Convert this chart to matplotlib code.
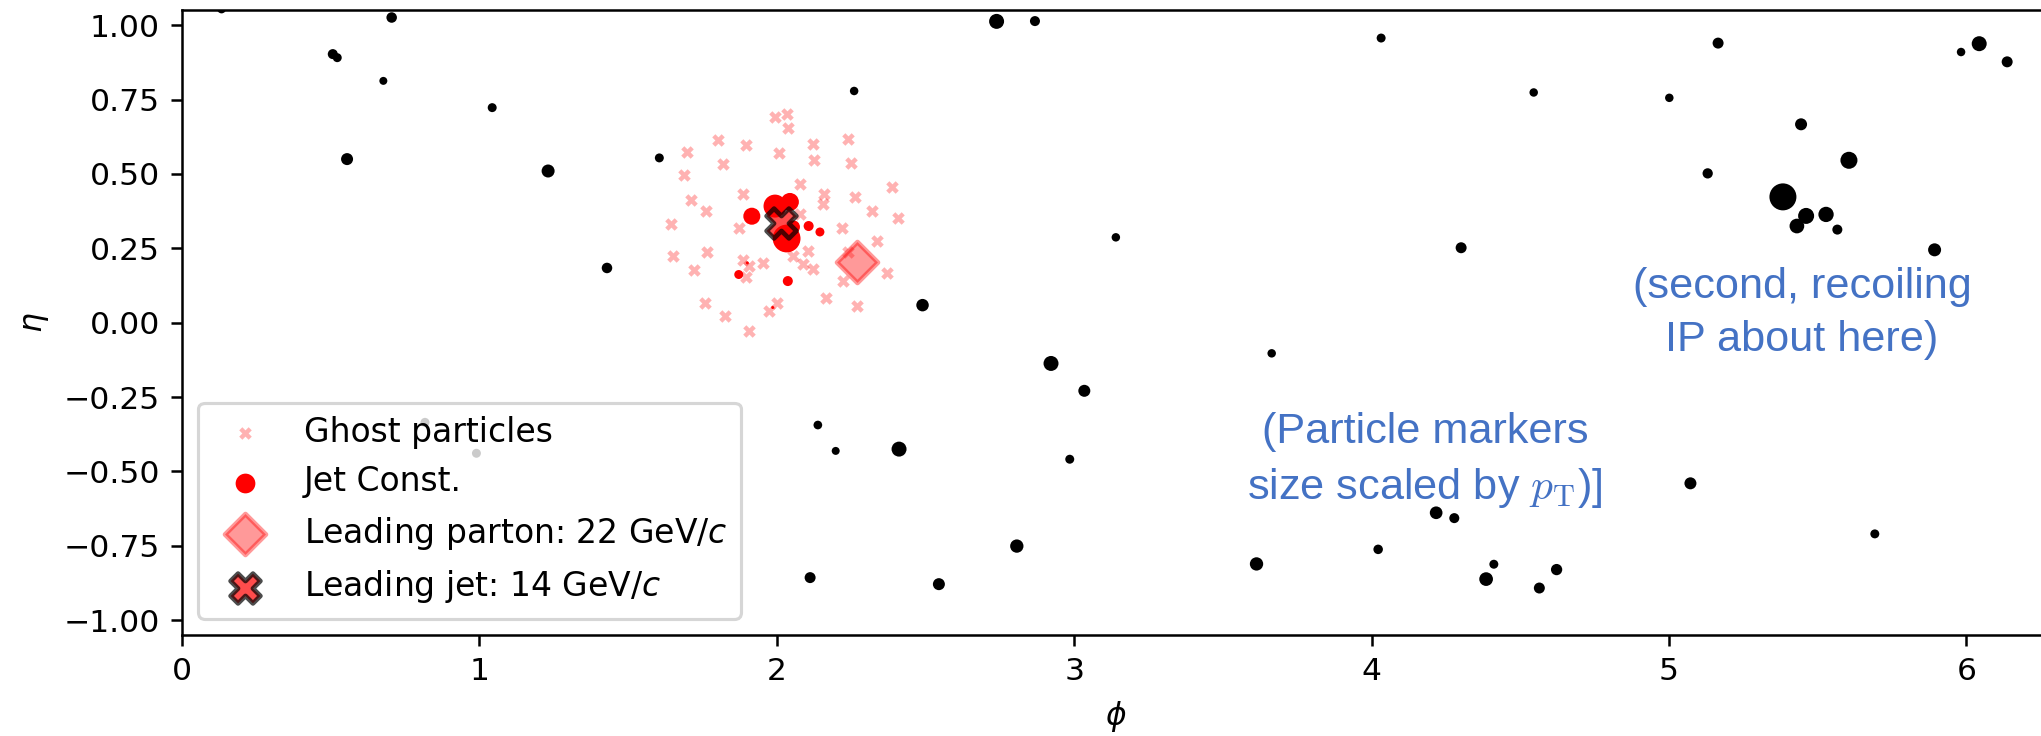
import matplotlib
matplotlib.use("Agg")
import matplotlib.pyplot as plt
import numpy as np

# Background (non-jet) particles: azimuth, pseudorapidity, transverse momentum [GeV/c]
bg_phi = [0.133, 0.507, 0.522, 0.677, 0.705, 0.555, 1.043, 1.231, 1.605, 1.429,
          2.260, 2.490, 2.739, 2.868, 4.032, 5.165, 5.982, 6.043, 6.137, 4.545,
          5.001, 5.444, 5.605, 5.130, 5.383, 5.461, 5.528, 5.430, 5.566, 5.893,
          3.140, 4.301, 2.922, 3.664, 3.034, 2.985, 5.072, 4.217, 4.278, 2.807,
          4.022, 5.692, 3.613, 4.411, 4.385, 4.622, 4.564, 2.138, 2.198, 2.411,
          2.112, 2.545, 0.817, 0.990]
bg_eta = [1.055, 0.903, 0.891, 0.813, 1.026, 0.550, 0.723, 0.510, 0.554, 0.184,
          0.779, 0.059, 1.013, 1.014, 0.957, 0.940, 0.910, 0.938, 0.877, 0.774,
          0.756, 0.667, 0.546, 0.502, 0.423, 0.359, 0.364, 0.325, 0.313, 0.245,
          0.287, 0.252, -0.137, -0.103, -0.229, -0.459, -0.540, -0.639, -0.657, -0.751,
          -0.762, -0.710, -0.811, -0.812, -0.862, -0.830, -0.892, -0.344, -0.431, -0.425,
          -0.857, -0.879, -0.335, -0.439]
bg_pt = [0.48, 0.60, 0.48, 0.38, 0.66, 0.86, 0.48, 1.01, 0.48, 0.66,
         0.43, 0.93, 1.34, 0.60, 0.48, 0.72, 0.43, 1.34, 0.72, 0.43,
         0.43, 0.86, 1.73, 0.63, 4.35, 1.53, 1.40, 1.29, 0.60, 1.01,
         0.43, 0.72, 1.34, 0.43, 0.86, 0.48, 0.86, 0.96, 0.60, 1.06,
         0.54, 0.48, 1.06, 0.48, 1.12, 0.76, 0.72, 0.45, 0.38, 1.34,
         0.72, 0.86, 0.48, 0.48]

# Jet constituents
jc_phi = [1.994, 2.044, 1.916, 2.033, 2.056, 2.107, 2.145, 1.872, 2.037, 1.901, 1.986]
jc_eta = [0.392, 0.406, 0.358, 0.283, 0.322, 0.325, 0.305, 0.162, 0.140, 0.201, 0.051]
jc_pt = [3.16, 1.93, 1.73, 4.60, 1.01, 0.60, 0.48, 0.48, 0.60, 0.05, 0.05]

# Ghost particles added for the jet-area estimate
gh_phi = [1.994, 2.033, 2.039, 1.801, 1.896, 1.699, 2.008, 2.121, 2.238, 1.820,
          2.126, 2.248, 1.689, 2.078, 1.887, 2.159, 2.154, 2.263, 2.388, 1.711,
          1.761, 2.321, 2.406, 1.643, 1.874, 2.218, 2.078, 1.652, 1.766, 1.887,
          1.953, 2.053, 2.106, 2.338, 2.240, 1.723, 1.908, 1.895, 2.089, 2.123,
          2.224, 2.370, 1.759, 1.826, 1.975, 2.000, 2.164, 2.269, 1.907]
gh_eta = [0.690, 0.700, 0.655, 0.614, 0.597, 0.574, 0.572, 0.602, 0.616, 0.532,
          0.546, 0.537, 0.496, 0.465, 0.432, 0.434, 0.399, 0.423, 0.457, 0.412,
          0.376, 0.375, 0.353, 0.331, 0.320, 0.320, 0.367, 0.224, 0.238, 0.210,
          0.201, 0.224, 0.242, 0.274, 0.238, 0.177, 0.190, 0.154, 0.199, 0.182,
          0.140, 0.166, 0.065, 0.022, 0.039, 0.065, 0.082, 0.056, -0.027]

# Leading parton and leading jet axes
parton_phi, parton_eta, parton_pt = 2.269, 0.205, 22
jet_phi, jet_eta, jet_pt = 2.013, 0.336, 14

size_per_gev = 17.0  # marker area (pt^2) per GeV/c

DPI = 226
fig = plt.figure(figsize=(2042 / DPI, 736 / DPI), dpi=DPI)
ax = fig.add_axes([0.08913, 0.1372, 0.9151, 0.8487])

ax.scatter(bg_phi, bg_eta, s=np.array(bg_pt) * size_per_gev, c="black",
           linewidths=0, zorder=2)
ax.scatter(gh_phi, gh_eta, s=16, marker="X", color="red", alpha=0.3,
           linewidths=0, label="Ghost particles", zorder=3)
ax.scatter(jc_phi, jc_eta, s=np.array(jc_pt) * size_per_gev, c="red",
           linewidths=0, label="Jet Const.", zorder=2.5)
ax.scatter([parton_phi], [parton_eta], s=85, marker="D", color="red", alpha=0.4,
           linewidths=1.5, label=f"Leading parton: {parton_pt} GeV/$c$", zorder=4)
ax.scatter([jet_phi], [jet_eta], s=90, marker="X", facecolor=(1, 0, 0, 0.7),
           edgecolor=(0, 0, 0, 0.7), linewidths=1.5,
           label=f"Leading jet: {jet_pt} GeV/$c$", zorder=5)

ax.set_xlim(0, 2 * np.pi)
ax.set_ylim(-1.05, 1.05)
ax.set_xticks([0, 1, 2, 3, 4, 5, 6])
ax.set_yticks([-1.0, -0.75, -0.5, -0.25, 0.0, 0.25, 0.5, 0.75, 1.0])
ax.set_xlabel(r"$\phi$")
ax.set_ylabel(r"$\eta$")

ax.legend(loc="lower left", fontsize=10.5)

note_kw = dict(color="#4472C4", fontsize=13.8, ha="center", va="center",
               multialignment="center", linespacing=1.4,
               family=["Liberation Sans", "DejaVu Sans"])
ax.text(5.447, 0.031, "(second, recoiling\nIP about here)", **note_kw)
ax.text(4.180, -0.465, "(Particle markers\nsize scaled by $p_{\\mathrm{T}}$)]",
        math_fontfamily="cm", **note_kw)

fig.savefig("out.png", dpi=DPI)
